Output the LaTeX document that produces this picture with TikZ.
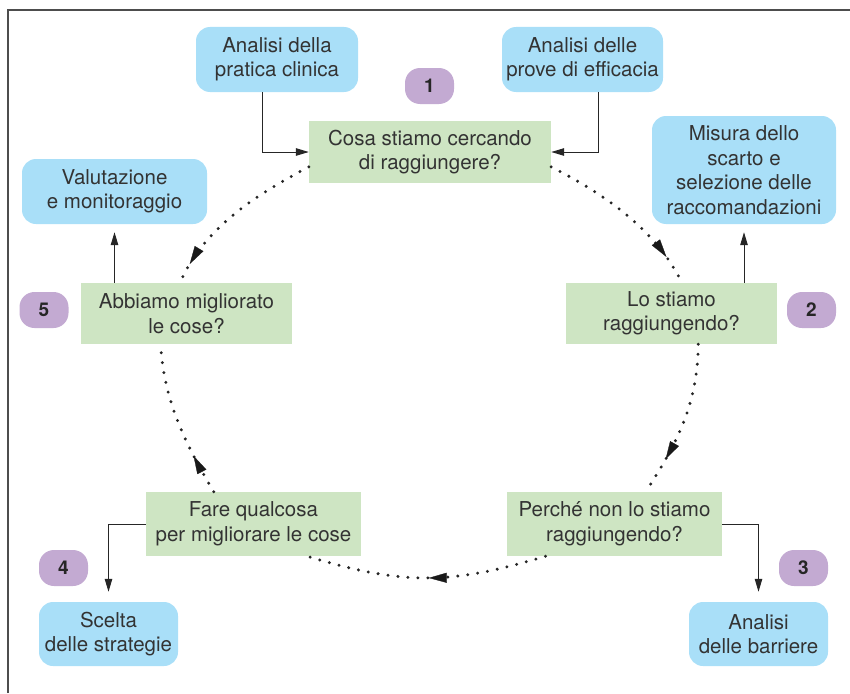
\documentclass[tikz,border=0pt]{standalone}
\usepackage{fontspec}
\setmainfont{TeX Gyre Heros}
\usetikzlibrary{arrows.meta,decorations.markings,calc}
\definecolor{bluebox}{HTML}{A9DFF8}
\definecolor{greenbox}{HTML}{CEE5C3}
\definecolor{purplebox}{HTML}{C3AAD2}
\definecolor{txt}{HTML}{333333}
\definecolor{framec}{HTML}{4D4D4D}
\begin{document}
\begin{tikzpicture}[x=1pt,y=-1pt,
  font=\fontsize{20.5}{24.5}\selectfont,
  bluenode/.style={rectangle, rounded corners=14pt, fill=bluebox, text=txt, align=center, inner sep=0pt},
  greennode/.style={rectangle, fill=greenbox, text=txt, align=center, inner sep=0pt},
  badge/.style={rectangle, rounded corners=15pt, fill=purplebox, text=black!85,
    font=\fontsize{19}{22}\selectfont\bfseries, minimum width=49pt, minimum height=36pt, inner sep=0pt},
  conn/.style={draw=black!85, line width=1pt, -{Triangle[length=13pt,width=7.5pt]}},
  cyc/.style={draw=black!85, line width=3.3pt, line cap=round, dash pattern=on 0pt off 10pt},
  tipat/.style={postaction={decorate}, decoration={markings,
    mark=at position #1 with {\arrow[line width=0.3pt, black!90]{Triangle[length=18pt,width=10pt]}}}},
  frameline/.style={draw=framec, line width=1.5pt}
]
\useasboundingbox (0,0) rectangle (850,693);
\draw[frameline] (8,693) -- (8,10) -- (850,10);

% blue boxes
\node[bluenode, minimum width=162pt, minimum height=65pt] (prat) at (277,59.5) {Analisi della\\pratica clinica};
\node[bluenode, minimum width=161pt, minimum height=65pt] (prove) at (582.5,59.5) {Analisi delle\\prove di efficacia};
\node[bluenode, minimum width=185pt, minimum height=65pt] (val) at (114.5,191.5) {Valutazione\\e monitoraggio};
\node[bluenode, minimum width=184pt, minimum height=108pt] (mis) at (744,170) {Misura dello\\scarto e\\selezione delle\\raccomandazioni};
\node[bluenode, minimum width=139pt, minimum height=64pt] (bar) at (758.5,634) {Analisi\\delle barriere};
\node[bluenode, minimum width=139pt, minimum height=64pt] (sce) at (108.5,634) {Scelta\\delle strategie};

% green boxes
\node[greennode, minimum width=242pt, minimum height=62pt] (cosa) at (430,152) {Cosa stiamo cercando\\di raggiungere?};
\node[greennode, minimum width=211pt, minimum height=61pt] (abb) at (186.5,313.5) {Abbiamo migliorato\\le cose?};
\node[greennode, minimum width=211pt, minimum height=61pt] (lo) at (671.5,313.5) {Lo stiamo\\raggiungendo?};
\node[greennode, minimum width=215pt, minimum height=64pt] (per) at (614.5,524) {Perché non lo stiamo\\raggiungendo?};
\node[greennode, minimum width=215pt, minimum height=64pt] (fare) at (253.5,524) {Fare qualcosa\\per migliorare le cose};

% badges
\node[badge] (b1) at (429.5,86) {1};
\node[badge] (b2) at (811.5,310) {2};
\node[badge] (b3) at (803.5,568) {3};
\node[badge] (b4) at (63.5,568) {4};
\node[badge] (b5) at (44,310) {5};

% solid connectors
\draw[conn] ([xshift=-15pt]prat.south) |- (cosa.west);
\draw[conn] ([xshift=15.5pt]prove.south) |- (cosa.east);
\draw[conn, shorten >=8pt] (abb.north -| val.south) -- (val.south);
\draw[conn, shorten >=8pt] (lo.north -| mis.south) -- (mis.south);
\draw[conn, shorten >=10pt] (per.east) -| (bar.north);
\draw[conn, shorten >=10pt] (fare.west) -| (sce.north);

% dotted cycle
\draw[cyc, tipat=0.88] (cosa.187) .. controls ($(cosa.187)+(-53,28)$) and ($(abb.102)+(24,-55)$) .. (abb.102);
\draw[cyc, tipat=0.83] (cosa.353) .. controls ($(cosa.353)+(53,27)$) and ($(lo.71)+(-27,-54)$) .. (lo.71);
\draw[cyc, tipat=0.76] (lo.311) .. controls ($(lo.311)+(0,60)$) and ($(per.46)+(30,-46)$) .. (per.46);
\draw[cyc, tipat=0.49] (per.205.7) .. controls ($(per.205.7)+(-96,29)$) and ($(fare.329)+(96,29)$) .. (fare.329);
\draw[cyc, tipat=0.26] (fare.141.7) .. controls ($(fare.141.7)+(-28,-47)$) and ($(abb.230)+(2.5,55)$) .. (abb.230);
\end{tikzpicture}
\end{document}
